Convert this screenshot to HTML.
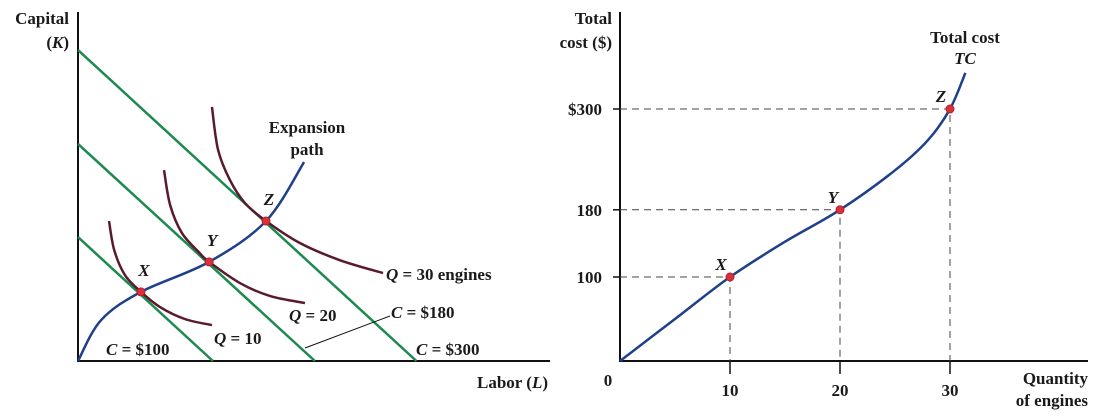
<!DOCTYPE html>
<html><head><meta charset="utf-8"><style>
body{margin:0;background:#fff}
svg{display:block}
text{font-family:"Liberation Serif",serif;font-weight:bold;fill:#1a1a1a;font-size:17px}
.it{font-style:italic}
tspan.i{font-style:italic}
</style></head><body>
<svg id="c" width="1100" height="416" viewBox="0 0 1100 416"></svg>
<script>
// Left panel data (L, K in 0..100 units)
const costLabels=["$100","$180","$300"];
const isocostKIntercepts=[35.5,62.2,89.1];
const isocostLIntercepts=[28.7,50.4,72.0];
const q10L=[6.6,7.7,10,13.4,17.4,22.8,28.5];const q10K=[40.1,31.8,24.6,19.8,15.5,12,10.3];
const q20L=[18.3,19.6,22.1,25.7,27.9,34.5,40.9,48.3];const q20K=[54.7,44.7,36.7,31.2,28.4,22.3,18.6,16.6];
const q30L=[28.5,29.8,32.3,35.5,40,47.2,55.7,64.9];const q30K=[72.8,60.5,51.9,45.3,40.1,33.8,28.9,25.2];
const pathL=[0,4.9,13.4,27.9,40,48.1];const pathK=[0,11.7,19.8,28.4,40.1,57];
const pointNames=["X","Y","Z"];
const pointL=[13.4,27.9,40];const pointK=[19.8,28.4,40.1];
// Right panel data
const quantities=[0,10,20,30];
const quantityTicks=["10","20","30"];
const costTicks=[100,180,300];
const costTickLabels=["100","180","$300"];
const tcQ=[0,5,10,15,20,25,28,30,31.4];
const tcC=[0,50,100,142,180,227,263,300,343];
const markQ=[10,20,30];const markC=[100,180,300];

const NS="http://www.w3.org/2000/svg",svg=document.getElementById('c');
function el(t,a,txt){const e=document.createElementNS(NS,t);for(const k in a)e.setAttribute(k,a[k]);if(txt!==undefined)e.textContent=txt;svg.appendChild(e);return e;}
const lx=v=>78+v*4.7, ly=v=>361-v*3.49;
const rx=v=>620+v*11, ry=v=>361-v*0.84;
function smooth(xs,ys){let p=xs.map((x,i)=>[x,ys[i]]);let d=`M${p[0][0]},${p[0][1]}`;
for(let i=0;i<p.length-1;i++){const p0=p[i-1]||p[i],p1=p[i],p2=p[i+1],p3=p[i+2]||p2;
d+=` C${p1[0]+(p2[0]-p0[0])/6},${p1[1]+(p2[1]-p0[1])/6} ${p2[0]-(p3[0]-p1[0])/6},${p2[1]-(p3[1]-p1[1])/6} ${p2[0]},${p2[1]}`;}return d;}
// parts: array of [string, italic?]
function txt(x,y,parts,name,anchor){const t=el('text',{x:x,y:y,'text-anchor':anchor||'start'});
if(typeof parts==='string')parts=[[parts,false]];
parts.forEach(([s,it])=>{const sp=document.createElementNS(NS,'tspan');sp.textContent=s;if(it)sp.setAttribute('class','i');t.appendChild(sp);});

return t;}

let a=el('path',{d:'M78,12 V361 H550',fill:'none',stroke:'#111','stroke-width':2});


isocostKIntercepts.forEach((k,i)=>{const l=el('line',{x1:lx(0),y1:ly(k),x2:lx(isocostLIntercepts[i]),y2:ly(0),stroke:'#1c8a4c','stroke-width':2.5});

});
[[q10L,q10K,'q10'],[q20L,q20K,'q20'],[q30L,q30K,'q30']].forEach(([L,K,n])=>{const p=el('path',{d:smooth(L.map(lx),K.map(ly)),fill:'none',stroke:'#5a1a2e','stroke-width':2.5});

});
let ep=el('path',{d:smooth(pathL.map(lx),pathK.map(ly)),fill:'none',stroke:'#1f3f8a','stroke-width':2.5});


pointL.forEach((v,i)=>{const c=el('circle',{cx:lx(v),cy:ly(pointK[i]),r:4,fill:'#d9303a',stroke:'#b02030','stroke-width':1});


txt(lx(v)+3,ly(pointK[i])-16,[[pointNames[i],true]],'label-'+pointNames[i].toLowerCase(),'middle');});
let ld=el('line',{x1:305,y1:348,x2:390,y2:316,stroke:'#111','stroke-width':1});


txt(69,24,'Capital','y-axis-title-left','end');
txt(69,48,[['(',false],['K',true],[')',false]],'y-axis-title-left-symbol','end');
txt(548,388,[['Labor (',false],['L',true],[')',false]],'x-axis-title-left','end');
txt(307,133,'Expansion','expansion-label','middle');
txt(307,155,'path','expansion-label-2','middle');
txt(386,280,[['Q',true],[' = 30 engines',false]],'q30-label');
txt(289,321,[['Q',true],[' = 20',false]],'q20-label');
txt(214,344,[['Q',true],[' = 10',false]],'q10-label');
txt(391,318,[['C',true],[' = '+costLabels[1],false]],'c180-label');
txt(106,355,[['C',true],[' = '+costLabels[0],false]],'c100-label');
txt(416,355,[['C',true],[' = '+costLabels[2],false]],'c300-label');

let b=el('path',{d:'M620,12 V361 H1088',fill:'none',stroke:'#111','stroke-width':2});


markQ.forEach((q,i)=>{const g1=el('path',{d:`M620,${ry(markC[i])} H${rx(q)} V361`,fill:'none',stroke:'#444','stroke-width':1,'stroke-dasharray':'7,5'});

});
costTicks.forEach((c,i)=>{const t=el('line',{x1:613,y1:ry(c),x2:620,y2:ry(c),stroke:'#111','stroke-width':1.5});


txt(602,ry(c)+6,costTickLabels[i],'y-tick-label','end');});
quantities.slice(1).forEach((q,i)=>{const t=el('line',{x1:rx(q),y1:361,x2:rx(q),y2:374,stroke:'#111','stroke-width':1.5});


txt(rx(q),396,quantityTicks[i],'x-tick-label','middle');});
txt(608,386,'0','origin-label','middle');
let tc=el('path',{d:smooth(tcQ.map(rx),tcC.map(ry)),fill:'none',stroke:'#1f3f8a','stroke-width':2.5});


markQ.forEach((q,i)=>{const c=el('circle',{cx:rx(q),cy:ry(markC[i]),r:4,fill:'#d9303a',stroke:'#b02030','stroke-width':1});


txt(rx(q)-9+(i==1?2:0),ry(markC[i])-7,[[pointNames[i],true]],'tc-label-'+pointNames[i].toLowerCase(),'middle');});
txt(612,24,'Total','y-axis-title-right','end');
txt(612,48,'cost ($)','y-axis-title-right-2','end');
txt(965,43,'Total cost','tc-title','middle');
txt(965,64,[['TC',true]],'tc-symbol','middle');
txt(1088,384,'Quantity','x-axis-title-right','end');
txt(1088,406,'of engines','x-axis-title-right-2','end');
</script>
</body></html>
